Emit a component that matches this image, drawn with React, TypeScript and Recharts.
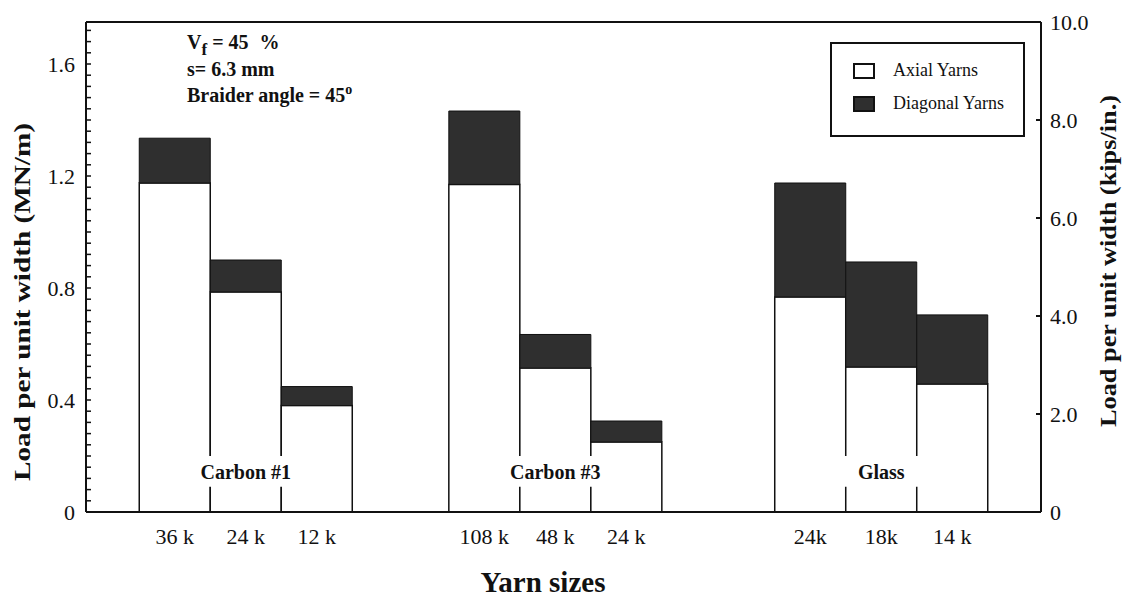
import React from 'react';
import {
  ComposedChart,
  Bar,
  XAxis,
  YAxis,
  Legend,
  ReferenceArea,
  ReferenceLine,
} from 'recharts';

// yarn sizes, in the order they appear along the axis
const sizeLabels = ['36 k', '24 k', '12 k', '108 k', '48 k', '24 k', '24k', '18k', '14 k'];
const groupNames = ['Carbon #1', 'Carbon #3', 'Glass'];
const groupOf = [0, 0, 0, 1, 1, 1, 2, 2, 2];

// load per unit width, MN/m
const axialLoad = [1.175, 0.786, 0.38, 1.17, 0.514, 0.25, 0.768, 0.518, 0.457];
const diagonalLoad = [0.16, 0.114, 0.068, 0.262, 0.12, 0.075, 0.407, 0.375, 0.247];

const leftTicks = [0, 0.4, 0.8, 1.2, 1.6];
const rightTicks = [0, 2, 4, 6, 8, 10];

// layout: x axis is measured in bar widths, each group starts at groupStart
const groupStart = [0.75, 5.11, 9.7];
const X_MAX = 13.45;
const Y_MAX = 1.75; // 10 kips/in.

const FONT = '"Liberation Serif", "Times New Roman", serif';
const W = 1131;
const H = 599;

const rows = sizeLabels.map((size, i) => {
  const g = groupOf[i];
  const idx = groupOf.slice(0, i).filter((v) => v === g).length;
  return {
    size,
    x: groupStart[g] + idx + 0.5,
    axial: axialLoad[i],
    diagonal: diagonalLoad[i],
  };
});

// minor ticks every 0.04 on the left axis, labels only on the majors
const minorTicks = Array.from({ length: 44 }, (_, k) => Math.round(k * 4) / 100);

const fmtLeft = (v: number) => {
  const major = leftTicks.find((t) => Math.abs(t - v) < 1e-6);
  if (major === undefined) return '';
  return major === 0 ? '0' : major.toFixed(1);
};

const fmtRight = (v: number) => (v === 0 ? '0' : v.toFixed(1));

const fmtSize = (v: number) => {
  const r = rows.find((d) => Math.abs(d.x - v) < 1e-6);
  return r ? r.size : '';
};

const LegendBox = (props: any) => {
  const payload = props.payload || [];
  return (
    <div
      style={{
        border: '2px solid #111',
        background: '#fff',
        width: 195,
        height: 95,
        boxSizing: 'border-box',
        fontFamily: FONT,
        fontSize: 18,
        color: '#111',
        position: 'relative',
      }}
    >
      {payload.map((p: any, i: number) => (
        <div
          key={p.value}
          style={{ position: 'absolute', left: 21, top: 16 + i * 33, display: 'flex', alignItems: 'center' }}
        >
          <span
            style={{
              display: 'inline-block',
              width: 22,
              height: 16,
              boxSizing: 'border-box',
              border: '2px solid #111',
              background: p.color,
              marginRight: 18,
            }}
          />
          <span>{p.value}</span>
        </div>
      ))}
    </div>
  );
};

const App = () => {
  return (
    <div style={{ position: 'absolute', left: 0, top: 0, width: W, height: H, background: '#fff' }}>
      <ComposedChart
        width={W}
        height={H}
        data={rows}
        margin={{ top: 22, right: 0, bottom: 47, left: 0 }}
        barCategoryGap={0}
        barGap={0}
      >
        <XAxis
          dataKey='x'
          type='number'
          domain={[0, X_MAX]}
          ticks={rows.map((d) => d.x)}
          interval={0}
          tickFormatter={fmtSize}
          height={40}
          tickLine={false}
          tickSize={0}
          tickMargin={16}
          axisLine={{ stroke: '#111', strokeWidth: 2 }}
          tick={{ fontSize: 22, fill: '#111', fontFamily: FONT }}
        />
        <YAxis
          yAxisId='left'
          orientation='left'
          width={86}
          domain={[0, Y_MAX]}
          ticks={minorTicks}
          interval={0}
          tickFormatter={fmtLeft}
          tickSize={-5}
          tickMargin={16}
          axisLine={{ stroke: '#111', strokeWidth: 2 }}
          tickLine={{ stroke: '#111', strokeWidth: 1.5 }}
          tick={{ fontSize: 22, fill: '#111', fontFamily: FONT }}
        />
        <YAxis
          yAxisId='right'
          orientation='right'
          width={90}
          type='number'
          domain={[0, 10]}
          allowDataOverflow
          ticks={rightTicks}
          interval={0}
          tickFormatter={fmtRight}
          tickSize={-5}
          tickMargin={14}
          axisLine={{ stroke: '#111', strokeWidth: 2 }}
          tickLine={{ stroke: '#111', strokeWidth: 2 }}
          tick={{ fontSize: 22, fill: '#111', fontFamily: FONT }}
        />
        <ReferenceLine yAxisId='left' y={Y_MAX} stroke='#111' strokeWidth={2} />

        <Bar
          yAxisId='left'
          dataKey='axial'
          name='Axial Yarns'
          stackId='load'
          fill='#ffffff'
          stroke='#111'
          strokeWidth={1.5}
          isAnimationActive={false}
        />
        <Bar
          yAxisId='left'
          dataKey='diagonal'
          name='Diagonal Yarns'
          stackId='load'
          fill='#2f2f2f'
          stroke='#111'
          strokeWidth={1}
          isAnimationActive={false}
        />

        {groupNames.map((name, g) => (
          <ReferenceArea
            key={name}
            yAxisId='left'
            x1={groupStart[g] + 1.5 - 0.78}
            x2={groupStart[g] + 1.5 + 0.78}
            y1={0.09}
            y2={0.2}
            fill='#ffffff'
            fillOpacity={1}
            stroke='none'
            zIndex={1500}
            label={{
              value: name,
              position: 'center',
              fontSize: 20,
              fontWeight: 'bold',
              fill: '#111',
              fontFamily: FONT,
            }}
          />
        ))}

        <Legend
          layout='vertical'
          align='center'
          verticalAlign='middle'
          content={<LegendBox />}
          wrapperStyle={{ top: 42, left: 830, width: 195, height: 95 }}
        />

        <text x={187} y={49} fontFamily={FONT} fontSize={20} fontWeight='bold' fill='#111'>
          V<tspan dy={6} fontSize={17}>f</tspan>
          <tspan dy={-6}> = 45 </tspan>
          <tspan dx={6}>%</tspan>
        </text>
        <text x={187} y={76} fontFamily={FONT} fontSize={20} fontWeight='bold' fill='#111'>
          s= 6.3 mm
        </text>
        <text x={187} y={102} fontFamily={FONT} fontSize={20} fontWeight='bold' fill='#111'>
          Braider angle = 45<tspan dy={-8} fontSize={14}>o</tspan>
        </text>

        <text
          x={22}
          y={302}
          transform='rotate(-90 22 302)'
          textAnchor='middle'
          dominantBaseline='central'
          fontFamily={FONT}
          fontSize={24}
          fontWeight='bold'
          fill='#111'
          textLength={358}
          lengthAdjust='spacingAndGlyphs'
        >
          Load per unit width (MN/m)
        </text>
        <text
          x={1108}
          y={261}
          transform='rotate(-90 1108 261)'
          textAnchor='middle'
          dominantBaseline='central'
          fontFamily={FONT}
          fontSize={24}
          fontWeight='bold'
          fill='#111'
          textLength={332}
          lengthAdjust='spacingAndGlyphs'
        >
          Load per unit width (kips/in.)
        </text>
        <text x={543} y={592} textAnchor='middle' fontFamily={FONT} fontSize={29} fontWeight='bold' fill='#111'>
          Yarn sizes
        </text>
      </ComposedChart>
    </div>
  );
};

export default App;
